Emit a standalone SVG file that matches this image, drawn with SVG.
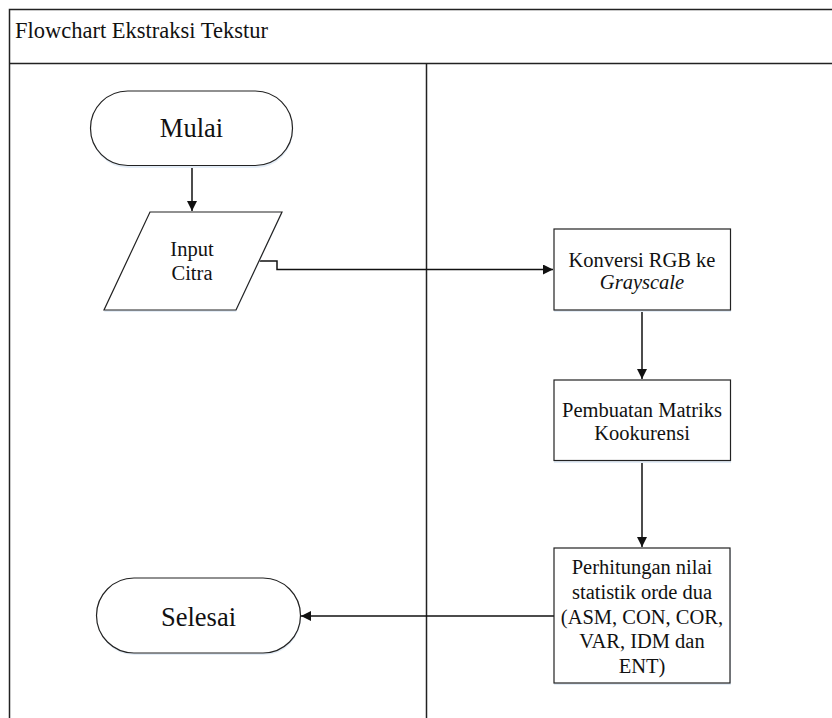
<svg xmlns="http://www.w3.org/2000/svg" width="832" height="718" viewBox="0 0 832 718">
  <style>
    .lane { fill: none; stroke: #222; stroke-width: 1.5; }
    .shape { fill: #fff; stroke: #222; stroke-width: 1.2; }
    .shadow { fill: #e3ecf6; stroke: none; }
    .conn { fill: none; stroke: #111; stroke-width: 1.5; }
    text { font-family: 'Liberation Serif', 'Times New Roman', serif; fill: #111; }
    .t { text-anchor: middle; }
    .title { font-size: 22.5px; }
    .big { font-size: 26.5px; }
    .mid { font-size: 20.5px; }
  </style>
  <defs>
    <marker id="arrow" viewBox="0 0 10 10" refX="10" refY="5" markerWidth="10" markerHeight="10" markerUnits="userSpaceOnUse" orient="auto">
      <path d="M0,0 L10,5 L0,10 z" fill="#111"/>
    </marker>
  </defs>
  <rect width="832" height="718" fill="#fff"/>

  <!-- swimlane frame -->
  <g id="frame">
    <path class="lane" d="M9.5,718 V9.5 H832"/>
    <path class="lane" d="M9.5,63.5 H832"/>
    <path class="lane" d="M426.5,63.5 V718"/>
    <text class="title" x="15" y="38">Flowchart Ekstraksi Tekstur</text>
  </g>

  <!-- connectors -->
  <g id="connectors">
    <path class="conn" d="M192,166 V211" marker-end="url(#arrow)"/>
    <path class="conn" d="M258,261 H277 V269.5 H553" marker-end="url(#arrow)"/>
    <path class="conn" d="M642,310 V379" marker-end="url(#arrow)"/>
    <path class="conn" d="M642,461 V547" marker-end="url(#arrow)"/>
    <path class="conn" d="M554,616 H301" marker-end="url(#arrow)"/>
  </g>

  <g id="mulai">
    <rect class="shadow" x="91" y="93" width="202" height="75" rx="37.5"/>
    <rect class="shape" x="90.5" y="91" width="202" height="74.5" rx="37.25"/>
    <text class="t big" x="191.5" y="137">Mulai</text>
  </g>

  <g id="input-citra">
    <polygon class="shadow" points="150,214 282,214 236,312 104,312"/>
    <polygon class="shape" points="150,212 282,212 236,310 104,310"/>
    <text class="t mid" x="192" y="256">Input</text>
    <text class="t mid" x="192" y="280">Citra</text>
  </g>

  <g id="konversi">
    <rect class="shadow" x="554" y="231" width="177" height="81"/>
    <rect class="shape" x="554" y="229" width="176.5" height="81"/>
    <text class="t mid" x="642" y="267">Konversi RGB ke</text>
    <text class="t mid" x="642" y="289" font-style="italic">Grayscale</text>
  </g>

  <g id="pembuatan">
    <rect class="shadow" x="554" y="382" width="177" height="81"/>
    <rect class="shape" x="554" y="380" width="176.5" height="80.5"/>
    <text class="t mid" x="642" y="417">Pembuatan Matriks</text>
    <text class="t mid" x="642" y="440">Kookurensi</text>
  </g>

  <g id="perhitungan">
    <rect class="shadow" x="554" y="550" width="177" height="135"/>
    <rect class="shape" x="554" y="548" width="176" height="135"/>
    <text class="t mid" x="642" y="574">Perhitungan nilai</text>
    <text class="t mid" x="642" y="599">statistik orde dua</text>
    <text class="t mid" x="642" y="623.5">(ASM, CON, COR,</text>
    <text class="t mid" x="642" y="648">VAR, IDM dan</text>
    <text class="t mid" x="642" y="673">ENT)</text>
  </g>

  <g id="selesai">
    <rect class="shadow" x="97" y="580" width="204" height="75" rx="37.5"/>
    <rect class="shape" x="96.5" y="578" width="204" height="75" rx="37.5"/>
    <text class="t big" x="198.5" y="626">Selesai</text>
  </g>
</svg>
